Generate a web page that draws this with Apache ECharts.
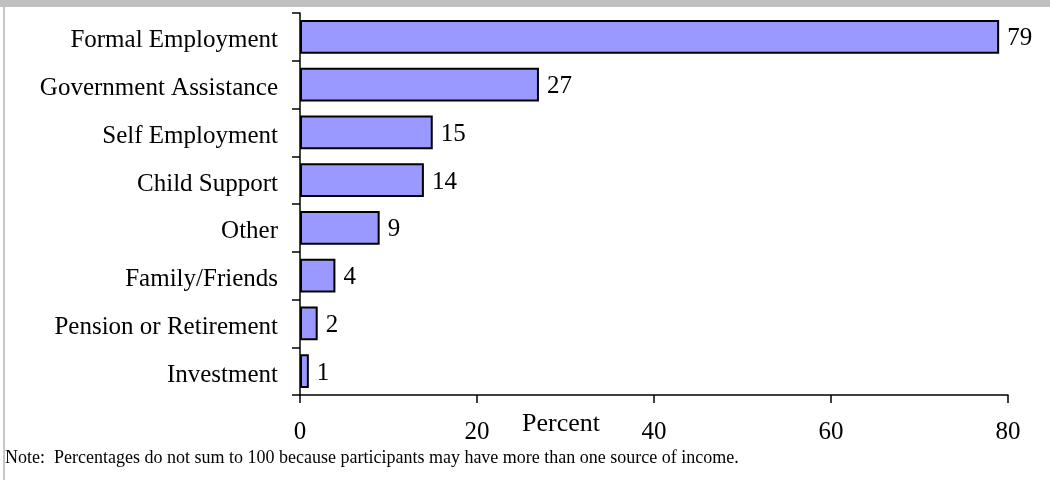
<!DOCTYPE html>
<html>
<head>
<meta charset="utf-8">
<script src="https://cdn.jsdelivr.net/npm/echarts@6/dist/echarts.min.js"></script>
<style>
  html, body { margin: 0; padding: 0; background: #ffffff; }
  #chart { width: 1050px; height: 480px; }
</style>
</head>
<body>
<div id="chart"></div>
<script>
// Sources of income, share of participants reporting each (percent)
const categories = [
  'Formal Employment',
  'Government Assistance',
  'Self Employment',
  'Child Support',
  'Other',
  'Family/Friends',
  'Pension or Retirement',
  'Investment'
];
const percentValues = [79, 27, 15, 14, 9, 4, 2, 1];
const xTicks = [0, 20, 40, 60, 80];
const noteText = 'Note:  Percentages do not sum to 100 because participants may have more than one source of income.';

const serif = '"Liberation Serif", "DejaVu Serif", serif';

const chart = echarts.init(document.getElementById('chart'), null, { renderer: 'canvas' });

chart.setOption({
  animation: false,
  backgroundColor: '#ffffff',
  grid: { left: 300, right: 42, top: 13, bottom: 85, containLabel: false },
  xAxis: {
    type: 'value',
    min: xTicks[0],
    max: xTicks[xTicks.length - 1],
    interval: 20,
    splitLine: { show: false },
    axisLine: { show: true, lineStyle: { color: '#000', width: 1.5 } },
    axisTick: { show: true, length: 8, inside: false, lineStyle: { color: '#000', width: 1.5 } },
    axisLabel: { margin: 25, color: '#000', fontFamily: serif, fontSize: 25 }
  },
  yAxis: {
    type: 'category',
    data: categories,
    inverse: true,
    axisLine: { show: true, lineStyle: { color: '#000', width: 1.5 } },
    axisTick: { show: true, length: 8, lineStyle: { color: '#000', width: 1.5 } },
    axisLabel: {
      margin: 22,
      formatter: (v) => '{c|' + v + '}',
      rich: {
        c: { color: '#000', fontFamily: serif, fontSize: 25, padding: [8, 0, 0, 0] }
      }
    }
  },
  series: [{
    type: 'bar',
    data: percentValues,
    barCategoryGap: '29%',
    itemStyle: { color: '#9999ff', borderColor: '#000', borderWidth: 2 },
    label: {
      show: true,
      position: 'right',
      distance: 8,
      offset: [0, 2],
      color: '#000',
      fontFamily: serif,
      fontSize: 25
    }
  }],
  graphic: [
    { type: 'rect', shape: { x: 0, y: 0, width: 1050, height: 7 }, style: { fill: '#c0c0c0' }, silent: true },
    { type: 'rect', shape: { x: 3, y: 7, width: 2, height: 473 }, style: { fill: '#c8c8c8' }, silent: true },
    {
      type: 'text', left: 522, top: 411,
      style: { text: 'Percent', fill: '#000', font: '26px ' + serif }
    },
    {
      type: 'text', left: 5, top: 449,
      style: { text: noteText, fill: '#000', font: '18px ' + serif }
    }
  ]
});
</script>
</body>
</html>
